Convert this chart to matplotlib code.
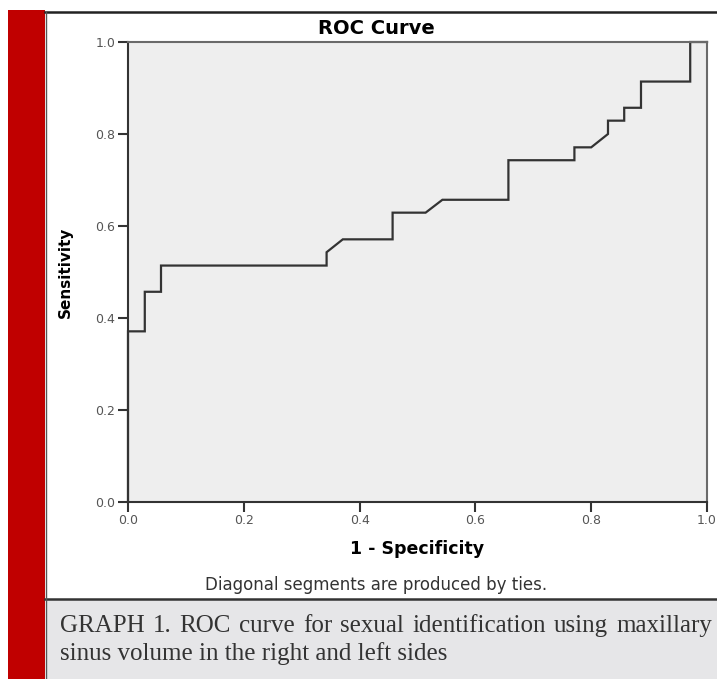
import matplotlib
matplotlib.use("Agg")
import matplotlib.pyplot as plt
from matplotlib.patches import Rectangle

# ROC curve points (1 - specificity, sensitivity)
fpr = [0.0, 0.0, 0.029, 0.029, 0.057, 0.057, 0.343, 0.343, 0.371, 0.457, 0.457,
       0.514, 0.543, 0.657, 0.657, 0.771, 0.771, 0.800, 0.829, 0.829, 0.857,
       0.857, 0.886, 0.886, 0.971, 0.971, 1.0]
tpr = [0.0, 0.371, 0.371, 0.457, 0.457, 0.514, 0.514, 0.543, 0.571, 0.571, 0.629,
       0.629, 0.657, 0.657, 0.743, 0.743, 0.771, 0.771, 0.800, 0.829, 0.829,
       0.857, 0.857, 0.914, 0.914, 1.0, 1.0]
ticks = [0.0, 0.2, 0.4, 0.6, 0.8, 1.0]
tick_labels = ["0.0", "0.2", "0.4", "0.6", "0.8", "1.0"]
caption_line1 = "GRAPH 1. ROC curve for sexual identification using maxillary"
caption_line2 = "sinus volume in the right and left sides"

W, H = 717, 679
fig = plt.figure(figsize=(W / 100, H / 100), dpi=100)
fig.patch.set_facecolor("white")

def fx(px):
    return px / W

def fy(py):
    return 1 - py / H

# page decorations: red side bar, panel border, caption box
fig.add_artist(Rectangle((fx(8), 0), fx(37), fy(10), transform=fig.transFigure,
                         facecolor="#c00000", edgecolor="none", zorder=0))
fig.add_artist(Rectangle((fx(46), 0), fx(W - 46), fy(600),
                         transform=fig.transFigure, facecolor="#e6e6e8",
                         edgecolor="none", zorder=0))
fig.add_artist(plt.Line2D([fx(45), 1], [fy(12), fy(12)], transform=fig.transFigure,
                          color="#222222", lw=1.8))
fig.add_artist(plt.Line2D([fx(45), 1], [fy(598.5), fy(598.5)], transform=fig.transFigure,
                          color="#333333", lw=1.8))
fig.add_artist(plt.Line2D([fx(45.5), fx(45.5)], [0, fy(12)], transform=fig.transFigure,
                          color="#555555", lw=1.0))

# axes area
ax = fig.add_axes([fx(128), fy(502), fx(707 - 128), fy(42) - fy(502)])
ax.set_facecolor("#eeeeee")
ax.plot(fpr, tpr, color="#333333", lw=1.6, solid_joinstyle="miter", clip_on=False)
ax.set_xlim(0, 1)
ax.set_ylim(0, 1)
ax.set_xticks(ticks)
ax.set_xticklabels(tick_labels)
ax.set_yticks(ticks)
ax.set_yticklabels(tick_labels)
ax.tick_params(direction="out", length=7, width=1.5, color="#333333",
               labelsize=9, labelcolor="#555555", pad=2)
for side in ["left", "bottom"]:
    ax.spines[side].set_color("#333333")
    ax.spines[side].set_linewidth(1.5)
for side in ["top", "right"]:
    ax.spines[side].set_color("#6a6a6a")
    ax.spines[side].set_linewidth(1.5)

ax.set_xlabel("1 - Specificity", fontsize=12.5, fontweight="bold", labelpad=9)
ax.set_ylabel("Sensitivity", fontsize=11, fontweight="bold", labelpad=16)

fig.text(fx(376), fy(28), "ROC Curve", ha="center", va="center",
         fontsize=14, fontweight="bold")
fig.text(fx(376), fy(585), "Diagonal segments are produced by ties.",
         ha="center", va="center", fontsize=12, color="#333333")

# caption, first line justified between x=60 and x=712
cap_kw = dict(fontsize=18, family="Liberation Serif", color="#333333", va="baseline")
renderer = fig.canvas.get_renderer()
words = caption_line1.split(" ")
widths = []
for w in words:
    t = fig.text(0, 0, w, **cap_kw)
    widths.append(t.get_window_extent(renderer).width)
    t.remove()
gap = (712 - 60 - sum(widths)) / (len(words) - 1)
x = 60
for w, wd in zip(words, widths):
    fig.text(fx(x), fy(632), w, ha="left", **cap_kw)
    x += wd + gap
fig.text(fx(60), fy(660), caption_line2, ha="left", **cap_kw)

fig.savefig("out.png", dpi=100)
